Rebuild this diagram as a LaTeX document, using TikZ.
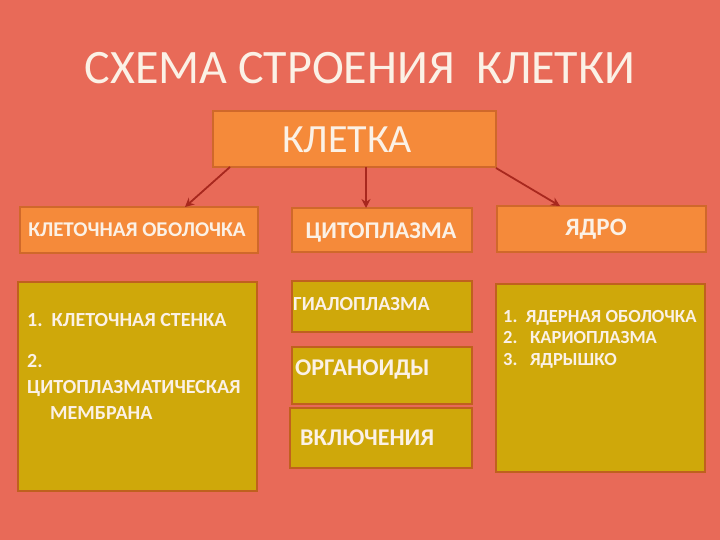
\documentclass[tikz,border=0pt]{standalone}
\usepackage{fontspec}
\setmainfont{Carlito}
\usetikzlibrary{arrows.meta}
\definecolor{bg}{HTML}{E86A58}
\definecolor{org}{HTML}{F58A3A}
\definecolor{ord}{HTML}{D0682A}
\definecolor{gold}{HTML}{CFA80A}
\definecolor{gbd}{HTML}{C0601E}
\definecolor{arr}{HTML}{A8281E}
\definecolor{txt}{HTML}{FBF1E6}
\begin{document}
\begin{tikzpicture}[x=1pt,y=-1pt,
  obox/.style={draw=ord,line width=1.2pt,fill=org},
  gbox/.style={draw=gbd,line width=1.2pt,fill=gold},
  lab/.style={text=txt,font=\bfseries,inner sep=0pt},
  con/.style={draw=arr,line width=1.8pt,-{Stealth[length=9pt,width=9pt]}}]
\fill[bg] (0,0) rectangle (720,540);
\useasboundingbox (0,0) rectangle (720,540);
\node[text=txt,font=\fontsize{48}{52}\selectfont] (title) at (360,68) {СХЕМА СТРОЕНИЯ\ \ КЛЕТКИ};
\draw[obox] (213,111) rectangle (496,167);
\node[text=txt,font=\fontsize{40}{44}\selectfont] (k) at (347,140) {КЛЕТКА};
\draw[obox] (20,207) rectangle (258,253);
\node[lab,font=\bfseries\fontsize{21}{24}\selectfont] (ko) at (137,230) {КЛЕТОЧНАЯ ОБОЛОЧКА};
\draw[obox] (292,208) rectangle (472,252);
\node[lab,font=\bfseries\fontsize{24}{26}\selectfont] (cp) at (381,232) {ЦИТОПЛАЗМА};
\draw[obox] (497,206) rectangle (706,252);
\node[lab,font=\bfseries\fontsize{25}{27}\selectfont] (ya) at (596,229) {ЯДРО};
\coordinate (a1) at (230,167); \coordinate (a2) at (366,167); \coordinate (a3) at (496,168);
\coordinate (b1) at (185,207); \coordinate (b2) at (366,208); \coordinate (b3) at (560,206);
\draw[con] (a1) -- (b1); \draw[con] (a2) -- (b2); \draw[con] (a3) -- (b3);
\draw[gbox] (18,282) rectangle (257,491);
\node[lab,anchor=west,font=\bfseries\fontsize{20}{22}\selectfont] (l1) at (27,320) {1.\ \ КЛЕТОЧНАЯ СТЕНКА};
\node[lab,anchor=north west,align=left,font=\bfseries\fontsize{20}{26}\selectfont] (l2) at (27,354) {2.\\ЦИТОПЛАЗМАТИЧЕСКАЯ\\\hspace*{23pt}МЕМБРАНА};
\draw[gbox] (292,281) rectangle (472,332);
\node[lab,anchor=west,font=\bfseries\fontsize{20}{22}\selectfont] (g1) at (293,304) {ГИАЛОПЛАЗМА};
\draw[gbox] (292,347) rectangle (472,404);
\node[lab,anchor=west,font=\bfseries\fontsize{24}{26}\selectfont] (g2) at (295,369) {ОРГАНОИДЫ};
\draw[gbox] (290,408) rectangle (472,468);
\node[lab,anchor=west,font=\bfseries\fontsize{24}{26}\selectfont] (g3) at (300,438) {ВКЛЮЧЕНИЯ};
\draw[gbox] (496,284) rectangle (705,472);
\node[lab,anchor=north west,align=left,font=\bfseries\fontsize{18.5}{21.5}\selectfont] (r1) at (503,310) {1.\ \ ЯДЕРНАЯ ОБОЛОЧКА\\2.\ \ \ КАРИОПЛАЗМА\\3.\ \ \ ЯДРЫШКО};
\end{tikzpicture}
\end{document}
